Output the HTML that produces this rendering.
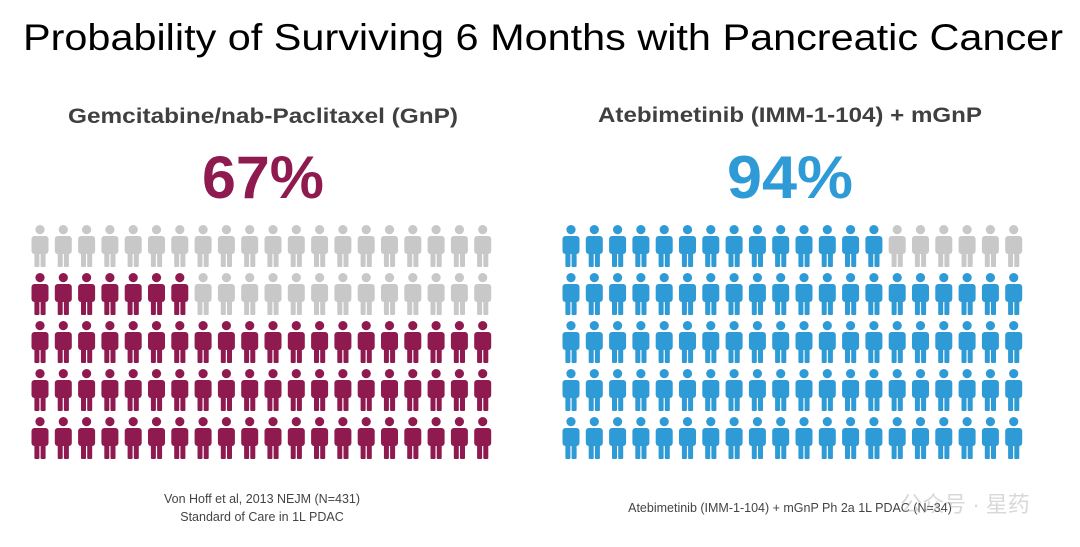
<!DOCTYPE html>
<html><head><meta charset="utf-8"><style>
html,body{margin:0;padding:0;background:#fff;}
svg{display:block;font-family:"Liberation Sans",sans-serif;}
</style></head><body>
<svg id="chart" width="1080" height="547" viewBox="0 0 1080 547">
<text x="543" y="50" font-size="37" text-anchor="middle" fill="#000" textLength="1040" lengthAdjust="spacingAndGlyphs">Probability of Surviving 6 Months with Pancreatic Cancer</text>
<text x="263" y="123" font-size="21" font-weight="bold" text-anchor="middle" fill="#404040" textLength="390" lengthAdjust="spacingAndGlyphs">Gemcitabine/nab-Paclitaxel (GnP)</text>
<text x="790" y="122" font-size="21" font-weight="bold" text-anchor="middle" fill="#404040" textLength="384" lengthAdjust="spacingAndGlyphs">Atebimetinib (IMM-1-104) + mGnP</text>
<text id="pctL" x="263" y="198" font-size="60" font-weight="bold" text-anchor="middle" fill="#8f1a4f" textLength="122" lengthAdjust="spacingAndGlyphs"></text>
<text id="pctR" x="790" y="198" font-size="60" font-weight="bold" text-anchor="middle" fill="#2e9ad6" textLength="126" lengthAdjust="spacingAndGlyphs"></text>
<g id="gridL"></g>
<g id="gridR"></g>
<text x="262" y="503" font-size="12.5" text-anchor="middle" fill="#444">Von Hoff et al, 2013 NEJM (N=431)</text>
<text x="262" y="521" font-size="12.5" text-anchor="middle" fill="#444">Standard of Care in 1L PDAC</text>
<text x="790" y="512" font-size="12.5" text-anchor="middle" fill="#444">Atebimetinib (IMM-1-104) + mGnP Ph 2a 1L PDAC (N=34)</text>
<text x="965" y="512" font-size="22" text-anchor="middle" fill="#aaa" opacity="0.45" font-family="'Liberation Sans','Noto Sans CJK SC',sans-serif">公众号 · 星药</text>
</svg>
<script>
const panels = ["GnP", "Atebimetinib + mGnP"];
const survivalPct = [67, 94];
const totalIcons = 100;
const colors = ["#8f1a4f", "#2e9ad6"];
const gray = "#c8c8c8";
const NS = "http://www.w3.org/2000/svg";
const cols = 20, rows = 5;
const originX = [40, 571], originY = 225, dx = 23.3, dy = 48;

function drawPerson(g, cx, y, fill) {
  const p = document.createElementNS(NS, "g");
  
  
  p.setAttribute("fill", fill);
  const h = document.createElementNS(NS, "circle");
  h.setAttribute("cx", cx); h.setAttribute("cy", y + 4.6); h.setAttribute("r", 4.6);
  const t = document.createElementNS(NS, "rect");
  t.setAttribute("x", cx - 8.5); t.setAttribute("y", y + 11); t.setAttribute("width", 17); t.setAttribute("height", 18); t.setAttribute("rx", 3);
  const l1 = document.createElementNS(NS, "rect");
  l1.setAttribute("x", cx - 5.6); l1.setAttribute("y", y + 24); l1.setAttribute("width", 5); l1.setAttribute("height", 18); l1.setAttribute("rx", 1);
  const l2 = document.createElementNS(NS, "rect");
  l2.setAttribute("x", cx + 0.6); l2.setAttribute("y", y + 24); l2.setAttribute("width", 5); l2.setAttribute("height", 18); l2.setAttribute("rx", 1);
  p.append(h, t, l1, l2);
  g.appendChild(p);
}

["gridL", "gridR"].forEach((id, k) => {
  const g = document.getElementById(id);
  const filled = Math.round(survivalPct[k] / 100 * totalIcons);
  const fullRows = Math.floor(filled / cols);
  const partial = filled % cols;
  for (let i = 0; i < totalIcons; i++) {
    const r = Math.floor(i / cols), c = i % cols;
    const rowFromBottom = rows - 1 - r;
    let colored = rowFromBottom < fullRows || (rowFromBottom === fullRows && c < partial);
    drawPerson(g, originX[k] + c * dx, originY + r * dy, colored ? colors[k] : gray);
  }
});
document.getElementById("pctL").textContent = survivalPct[0] + "%";
document.getElementById("pctR").textContent = survivalPct[1] + "%";
</script>
</body></html>
